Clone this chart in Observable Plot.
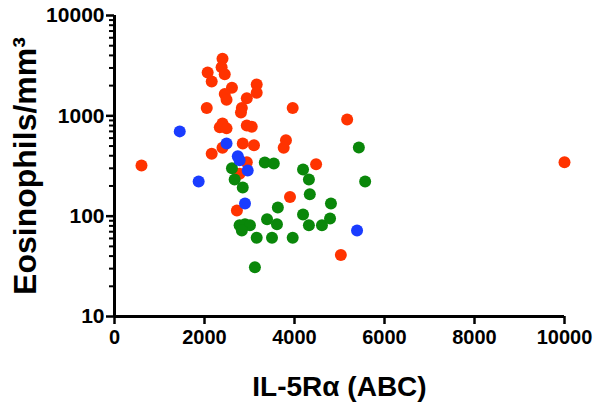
<!DOCTYPE html>
<html>
<head>
<meta charset="utf-8">
<script src="https://cdn.jsdelivr.net/npm/d3@7"></script>
<script src="https://cdn.jsdelivr.net/npm/@observablehq/plot@0.6"></script>
<style>
  html, body { margin: 0; padding: 0; background: #fff; }
  svg { display: block; }
</style>
</head>
<body>
<div id="chart"></div>
<script>
// Red series
const redX = [2400, 2070, 2160, 2380, 2450, 2610, 2450, 2490, 3160, 3160, 2940, 2830, 2810, 2050, 3960, 2400, 2340, 2490, 2940, 3050, 5170, 2160, 2400, 2850, 3100, 3810, 3760, 4480, 3900, 2940, 2780, 2720, 5030, 600, 10000];
const redY = [3700, 2700, 2200, 3050, 2600, 1900, 1650, 1450, 2050, 1700, 1500, 1200, 1080, 1200, 1200, 840, 770, 750, 800, 780, 920, 420, 480, 530, 510, 570, 480, 330, 155, 345, 265, 114, 41, 320, 345];
// Green series
const greenX = [2610, 2670, 2850, 3340, 3540, 4190, 4320, 4340, 5430, 5570, 4810, 3630, 3390, 3610, 2780, 2900, 3010, 2830, 3160, 3500, 3960, 4190, 4320, 4610, 4790, 3120];
const greenY = [300, 232, 193, 343, 335, 292, 232, 165, 484, 222, 134, 122, 93, 83, 81, 83, 81, 72, 61, 61, 61, 104, 81, 81, 95, 31];
// Blue series
const blueX = [1450, 2490, 2740, 2780, 2960, 1870, 2900, 5390];
const blueY = [700, 530, 395, 360, 285, 222, 134, 72];

const xTicks = [0, 2000, 4000, 6000, 8000, 10000];
const yTicks = [10, 100, 1000, 10000];
const yMinor = [20, 30, 40, 50, 60, 70, 80, 90, 200, 300, 400, 500, 600, 700, 800, 900, 2000, 3000, 4000, 5000, 6000, 7000, 8000, 9000];
const xTitle = "IL-5R\u03b1 (ABC)";
const yTitle = "Eosinophils/mm\u00b3";

const toRows = (xs, ys) => xs.map((x, i) => ({x, y: ys[i]}));
const red = toRows(redX, redY);
const green = toRows(greenX, greenY);
const blue = toRows(blueX, blueY);

const font = "'Liberation Sans', Arial, Helvetica, sans-serif";

const chart = Plot.plot({
  width: 601,
  height: 412,
  marginLeft: 114,
  marginRight: 37,
  marginTop: 15,
  marginBottom: 96,
  style: {fontFamily: font, color: "#000", background: "#fff", overflow: "visible"},
  x: {type: "linear", domain: [0, 10000]},
  y: {type: "log", domain: [10, 10000]},
  marks: [
    Plot.axisY({ticks: yMinor, tickSize: 5, tickFormat: () => "", label: null, strokeWidth: 2, stroke: "#000"}),
    Plot.axisY({ticks: yTicks, tickSize: 8, tickPadding: 2, tickFormat: d => String(d), label: null,
      fontSize: 21, fontWeight: "bold", strokeWidth: 2.5, stroke: "#000", fill: "#000"}),
    Plot.axisX({ticks: xTicks, tickSize: 8, tickPadding: 5, tickFormat: d => String(d), label: null,
      fontSize: 20, fontWeight: "bold", strokeWidth: 2.5, stroke: "#000", fill: "#000"}),
    Plot.ruleX([0], {stroke: "#000", strokeWidth: 3}),
    Plot.ruleY([10], {stroke: "#000", strokeWidth: 3}),
    Plot.text([xTitle], {frameAnchor: "bottom", dy: 79, text: d => d, textAnchor: "middle", fontSize: 28, fontWeight: "bold", fill: "#000"}),
    Plot.text([yTitle], {frameAnchor: "left", dx: -89, rotate: -90, text: d => d, textAnchor: "middle", fontSize: 32, fontWeight: "bold", fill: "#000"}),
    Plot.dot(red, {x: "x", y: "y", r: 6, fill: "#ff3300", stroke: "none"}),
    Plot.dot(green, {x: "x", y: "y", r: 6, fill: "#0a870a", stroke: "none"}),
    Plot.dot(blue, {x: "x", y: "y", r: 6, fill: "#1a3cff", stroke: "none"})
  ]
});
document.getElementById("chart").appendChild(chart);
</script>
</body>
</html>
